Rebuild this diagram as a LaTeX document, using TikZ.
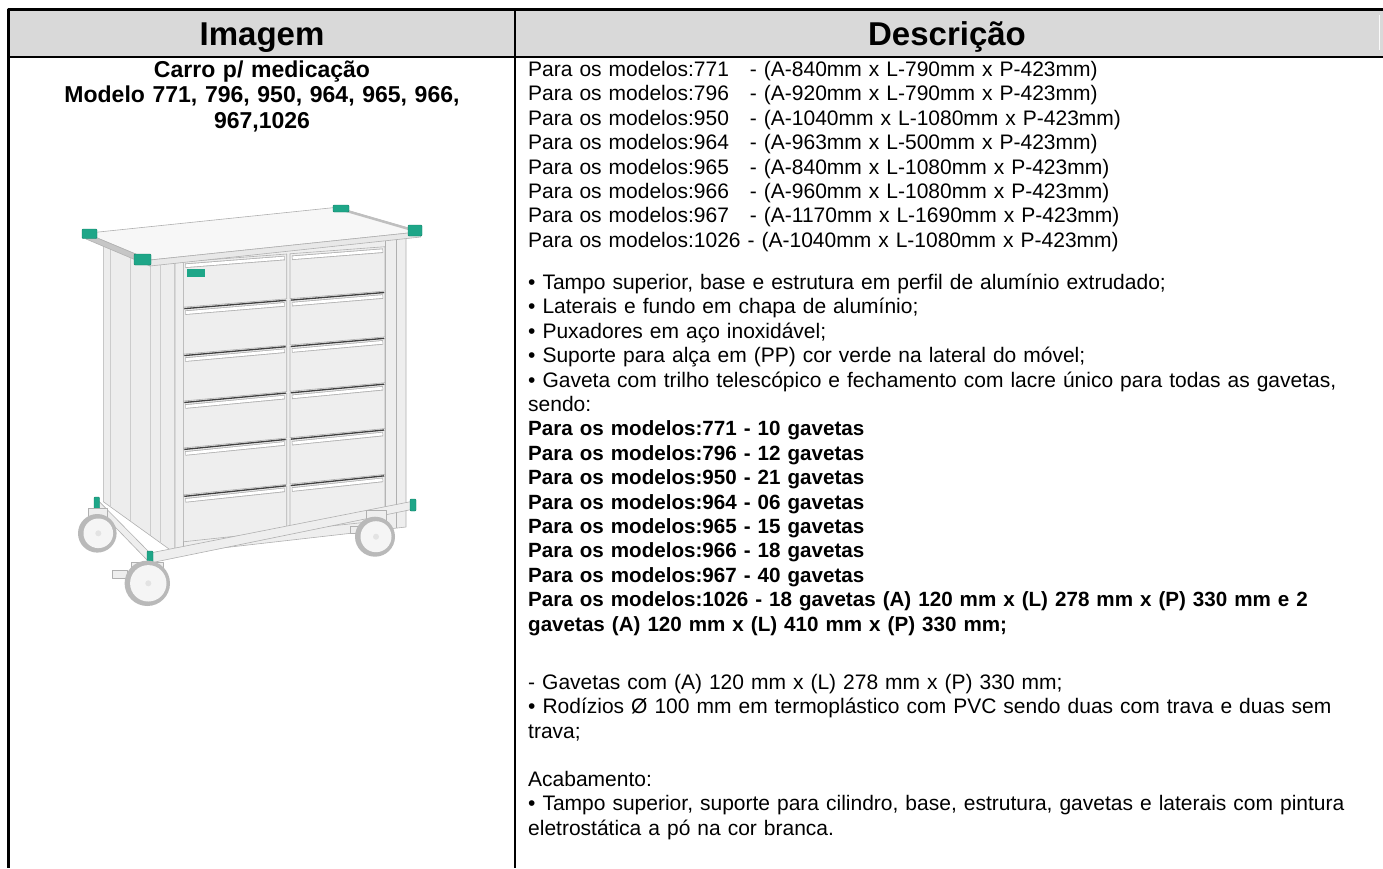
\documentclass[tikz,border=0pt]{standalone}
\usepackage{fontspec}
\setmainfont{Liberation Sans}
\usetikzlibrary{calc}
\definecolor{cabec}{HTML}{D9D9D9}
\definecolor{verde}{RGB}{30,166,136}
\definecolor{verdeesc}{RGB}{18,128,104}
\definecolor{chapa}{HTML}{EEEEEE}
\definecolor{aresta}{HTML}{B0B0B0}
\newcommand{\negr}[1]{{\bfseries\fontsize{20.6}{24.4}\selectfont #1}}

\begin{document}
\begin{tikzpicture}[x=1pt,y=-1pt,line join=round,
  grade/.style={line width=2.2pt},
  corpo/.style={inner sep=0pt, align=left, text width=860pt, anchor=base west,
    font=\fontsize{21}{24.4}\selectfont},
  cabecalho/.style={inner sep=0pt, anchor=base, font=\bfseries\fontsize{33}{36}\selectfont},
  tampa/.style={fill=verde, draw=verdeesc, line width=0.4pt, rounded corners=1pt},
  peca/.style={fill=chapa, draw=aresta, line width=0.6pt}]
\useasboundingbox (0,0) rectangle (1383,868);

% tabela
\fill[cabec] (8.5,9.5) rectangle (1383,57);
\draw[white!88!cabec, line width=1pt] (1379,15) -- (1379,50);
\draw[grade] (1383,9.5) -- (8.5,9.5) -- (8.5,868);
\draw[grade] (8.5,57) -- (1383,57);
\draw[grade] (515,9.5) -- (515,868);

\node[cabecalho] (hImg) at (262,45) {Imagem};
\node[cabecalho] (hDesc) at (947,45) {Descrição};

\node[inner sep=0pt, anchor=base, text width=490pt, align=center,
  font=\bfseries\fontsize{23}{25.5}\selectfont] (titulo) at (262,77)
  {Carro p/ medicação\\Modelo 771, 796, 950, 964, 965, 966,\\967,1026};

% carro
\draw[fill=gray!14, draw=aresta, line width=0.6pt] (103.3,238.3) -- (175,263) -- (175,553.3) -- (103.3,501.7) -- cycle;
\foreach \gx/\gt/\gb in {110/240.8/506.5, 130/248.2/520.9, 150/255.7/535.3, 160/259.4/542.5}
  \draw[gray!40, line width=0.6pt] (\gx,\gt) -- (\gx,\gb);
\draw[peca] (175,263) -- (406,237) -- (406,527) -- (175,553.3) -- cycle;
\draw[aresta, line width=0.6pt] (183.3,262) -- (183.3,552) (385,240) -- (385,529) (396,238) -- (396,528);
\foreach \k in {0,...,5}{
  \foreach \xa/\xb in {183.3/286.7,290/385}{
    \pgfmathsetmacro\sa{-0.0744-0.00545*\k}
    \pgfmathsetmacro\sb{-0.0744-0.00545*(\k+1)}
    \pgfmathsetmacro\ya{261.7+46.93*\k+\sa*(\xa-183.3)}
    \pgfmathsetmacro\yb{261.7+46.93*\k+\sa*(\xb-183.3)}
    \pgfmathsetmacro\yc{261.7+46.93*(\k+1)+\sb*(\xb-183.3)}
    \pgfmathsetmacro\yd{261.7+46.93*(\k+1)+\sb*(\xa-183.3)}
    \draw[peca] (\xa,\ya) -- (\xb,\yb) -- (\xb,\yc-1.5) -- (\xa,\yd-1.5) -- cycle;
    \ifnum\k>0 \draw[black!75, line width=1.3pt] (\xa+1,\ya) -- (\xb-1,\yb); \fi
    \draw[gray!60, line width=4.5pt] (\xa+2,\ya+4) -- (\xb-2,\yb+4);
    \draw[white, line width=2.8pt] (\xa+2.5,\ya+4) -- (\xb-2.5,\yb+4);
  }
}
\fill[verde] (187,268.5) rectangle (205,277);
% tampo
\draw[fill=gray!6, draw=aresta, line width=0.6pt] (86,233.3) -- (150,260) -- (420.7,231.7) -- (336.7,207.3) -- cycle;
\draw[fill=gray!18, draw=aresta, line width=0.6pt] (150,260) -- (420.7,231.7) -- (420.7,237) -- (150,266) -- cycle;
\draw[fill=gray!45, draw=gray!60, line width=0.6pt] (86,233.3) -- (150,260) -- (150,266) -- (86,239) -- cycle;
\draw[gray!50, line width=2.5pt] (340,209) -- (416,231);
\draw[tampa] (82,229) rectangle (97,238.5);
\draw[tampa] (134,254) rectangle (151,265);
\draw[tampa] (408,225) rectangle (422,236);
\draw[tampa] (333,205) rectangle (349,212);
% base
\draw[peca] (96.7,499) -- (150,553) -- (150,563) -- (96.7,508) -- cycle;
\draw[peca] (150,553) -- (414,501) -- (414,509) -- (150,563) -- cycle;
\draw[tampa] (94,497) rectangle (99.5,509);
\draw[tampa] (147,551) rectangle (153,565);
\draw[tampa] (410,499) rectangle (416,511);
% rodas
\draw[peca] (88,508) rectangle (107,522);
\draw[peca] (366,510) rectangle (386,524);
\draw[peca] (350,526) rectangle (362,533);
\draw[peca] (131,562) rectangle (163,580);
\draw[peca] (112,570) rectangle (127,578);
\foreach \cx/\cy/\r in {97.3/533.3/19.3, 375/536.7/20, 147.3/583.3/22.7}{
  \fill[gray!55] (\cx,\cy) circle (\r);
  \fill[gray!8] (\cx+1,\cy) circle (\r-4.5);
  \fill[gray!22] (\cx+1,\cy) circle (3);
}

% descricao
\node[corpo] (dims) at (528,76.5) {Para os modelos:771~~~- (A-840mm x L-790mm x P-423mm)\\
Para os modelos:796~~~- (A-920mm x L-790mm x P-423mm)\\
Para os modelos:950~~~- (A-1040mm x L-1080mm x P-423mm)\\
Para os modelos:964~~~- (A-963mm x L-500mm x P-423mm)\\
Para os modelos:965~~~- (A-840mm x L-1080mm x P-423mm)\\
Para os modelos:966~~~- (A-960mm x L-1080mm x P-423mm)\\
Para os modelos:967~~~- (A-1170mm x L-1690mm x P-423mm)\\
Para os modelos:1026 - (A-1040mm x L-1080mm x P-423mm)};

\node[corpo] (itens) at (528,289.5) {• Tampo superior, base e estrutura em perfil de alumínio extrudado;\\
• Laterais e fundo em chapa de alumínio;\\
• Puxadores em aço inoxidável;\\
• Suporte para alça em (PP) cor verde na lateral do móvel;\\
• Gaveta com trilho telescópico e fechamento com lacre único para todas as gavetas,\\
sendo:\\
\negr{Para os modelos:771 - 10 gavetas}\\
\negr{Para os modelos:796 - 12 gavetas}\\
\negr{Para os modelos:950 - 21 gavetas}\\
\negr{Para os modelos:964 - 06 gavetas}\\
\negr{Para os modelos:965 - 15 gavetas}\\
\negr{Para os modelos:966 - 18 gavetas}\\
\negr{Para os modelos:967 - 40 gavetas}\\
\negr{Para os modelos:1026 - 18 gavetas (A) 120 mm x (L) 278 mm x (P) 330 mm e 2}\\
\negr{gavetas (A) 120 mm x (L) 410 mm x (P) 330 mm;}};

\node[corpo] (gav) at (528,689.5) {- Gavetas com (A) 120 mm x (L) 278 mm x (P) 330 mm;\\
• Rodízios Ø 100 mm em termoplástico com PVC sendo duas com trava e duas sem\\
trava;};

\node[corpo] (acab) at (528,786.5) {Acabamento:\\
• Tampo superior, suporte para cilindro, base, estrutura, gavetas e laterais com pintura\\
eletrostática a pó na cor branca.};
\end{tikzpicture}
\end{document}
